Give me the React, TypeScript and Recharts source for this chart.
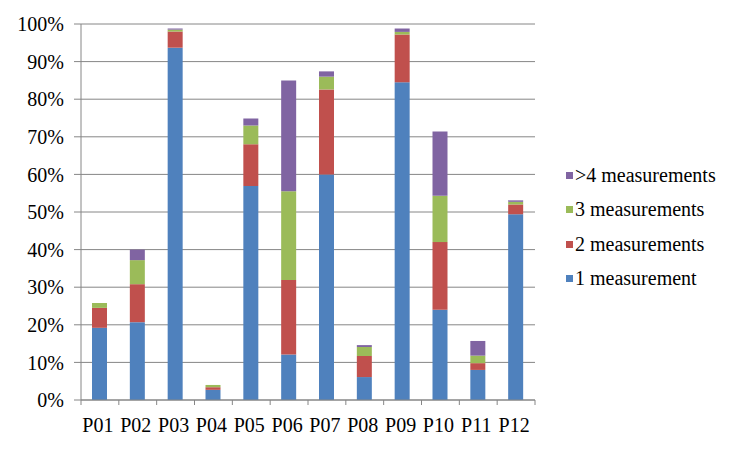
import { Bar, BarChart, CartesianGrid, Legend, XAxis, YAxis } from "recharts";

const categories = ["P01", "P02", "P03", "P04", "P05", "P06", "P07", "P08", "P09", "P10", "P11", "P12"];
const oneMeasurement = [19.2, 20.7, 93.7, 2.7, 56.9, 12.1, 60, 6.1, 84.5, 24, 8, 49.4];
const twoMeasurements = [5.3, 10.1, 4.3, 0.7, 11.1, 19.8, 22.6, 5.6, 12.7, 18, 1.8, 2.6];
const threeMeasurements = [1.3, 6.4, 0.5, 0.6, 5, 23.6, 3.4, 2.4, 0.7, 12.3, 2, 0.7];
const moreMeasurements = [0, 2.8, 0.3, 0, 1.9, 29.5, 1.4, 0.5, 0.9, 17.1, 3.9, 0.4];
const yTicks = [0, 10, 20, 30, 40, 50, 60, 70, 80, 90, 100];

const data = categories.map((name, i) => ({
  name,
  one: oneMeasurement[i],
  two: twoMeasurements[i],
  three: threeMeasurements[i],
  more: moreMeasurements[i],
}));

const FONT = "Liberation Serif, Tinos, Times New Roman, DejaVu Serif, serif";
const GRID = "#868686";

function XTick(props: any) {
  const { x, y, payload, index } = props;
  const half = payload.offset || 0;
  const axisY = y - 18;
  return (
    <g>
      <line x1={x - half} x2={x - half} y1={axisY} y2={axisY + 5} stroke={GRID} />
      {index === categories.length - 1 ? (
        <line x1={x + half} x2={x + half} y1={axisY} y2={axisY + 5} stroke={GRID} />
      ) : null}
      <text x={x - 2} y={y} dy="0.71em" textAnchor="middle" fontSize={20} style={{ fontFamily: FONT }} fill="#000">
        {payload.value}
      </text>
    </g>
  );
}

function LegendBox(props: any) {
  const items = [...(props.payload || [])].reverse();
  return (
    <div style={{ fontFamily: FONT, fontSize: 20, color: "#000" }}>
      {items.map((it: any) => (
        <div key={it.value} style={{ height: 34.5, display: "flex", alignItems: "center", whiteSpace: "nowrap" }}>
          <span style={{ width: 7, height: 7, background: it.color, display: "inline-block", marginRight: 2 }} />
          {it.value}
        </div>
      ))}
    </div>
  );
}

export default function App() {
  return (
    <div style={{ position: "absolute", left: 0, top: 0, width: 752, height: 452, background: "#fff", fontFamily: FONT }}>
      <BarChart width={752} height={452} data={data} margin={{ top: 24, right: 217, bottom: 0, left: 0 }} barSize={15}>
        <CartesianGrid stroke={GRID} vertical={false} />
        <XAxis
          dataKey="name"
          height={52}
          axisLine={{ stroke: GRID }}
          tickLine={false}
          tickSize={5}
          tickMargin={13}
          interval={0}
          tick={<XTick />}
        />
        <YAxis
          width={81}
          domain={[0, 100]}
          ticks={yTicks}
          interval={0}
          tickFormatter={(v: number) => `${v}%`}
          axisLine={{ stroke: GRID }}
          tickLine={{ stroke: GRID }}
          tickSize={7}
          tickMargin={10}
          tick={{ fontSize: 20, fill: "#000", style: { fontFamily: FONT } }}
        />
        <Legend
          layout="vertical"
          align="center"
          verticalAlign="middle"
          wrapperStyle={{ left: 566, top: 158, width: 186 }}
          content={<LegendBox />}
        />
        <Bar dataKey="one" name="1 measurement" stackId="a" fill="#4F81BD" isAnimationActive={false} />
        <Bar dataKey="two" name="2 measurements" stackId="a" fill="#C0504D" isAnimationActive={false} />
        <Bar dataKey="three" name="3 measurements" stackId="a" fill="#9BBB59" isAnimationActive={false} />
        <Bar dataKey="more" name=">4 measurements" stackId="a" fill="#8064A2" isAnimationActive={false} />
      </BarChart>
    </div>
  );
}
